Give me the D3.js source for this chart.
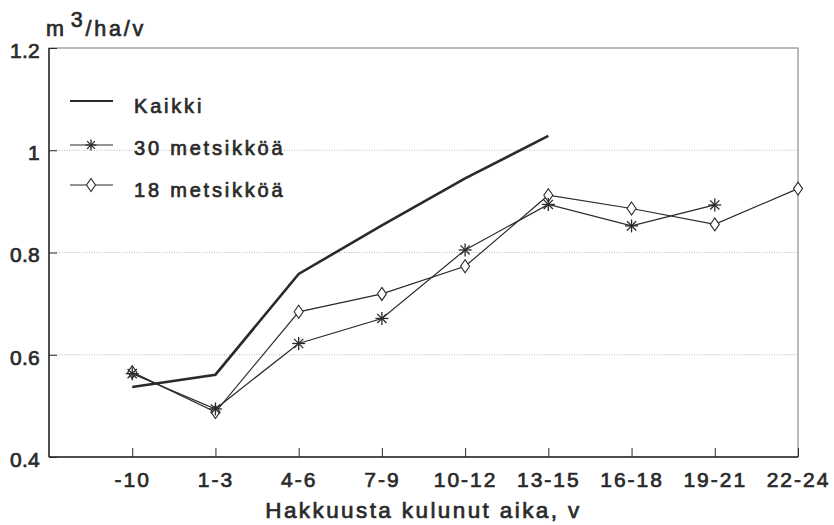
<!DOCTYPE html>
<html><head><meta charset="utf-8">
<script src="https://cdn.jsdelivr.net/npm/d3@7"></script>
<style>
body{margin:0;background:#fff;}
text{font-family:"Liberation Sans",Arial,sans-serif;font-weight:normal;fill:#2a2a2a;stroke:#2a2a2a;stroke-width:0.7px;}
</style></head>
<body>
<svg id="c" width="834" height="525"></svg>
<script>
const categories = ["-10","1-3","4-6","7-9","10-12","13-15","16-18","19-21","22-24"];
const kaikki = [0.537, 0.561, 0.758, 0.853, 0.945, 1.028, null, null, null];
const mets30 = [0.563, 0.494, 0.622, 0.671, 0.805, 0.894, 0.852, 0.893, null];
const mets18 = [0.566, 0.488, 0.684, 0.719, 0.773, 0.912, 0.886, 0.855, 0.925];
const yTicks = [0.4, 0.6, 0.8, 1.0, 1.2];
const yTickLabels = ["0.4","0.6","0.8","1","1.2"];
const yTitle = "m";
const xTitle = "Hakkuusta kulunut aika, v";
const legendLabels = ["Kaikki","30 metsikköä","18 metsikköä"];

const svg = d3.select("#c");
const L = 49, R = 798, T = 48, B = 457;
const x = d3.scaleLinear().domain([-1, categories.length - 1]).range([L, R]);
const y = d3.scaleLinear().domain([0.4, 1.2]).range([B, T]);
const ink = "#2a2a2a";

// grid
svg.append("g").selectAll("line").data(yTicks.filter(v => v > 0.4 && v < 1.2)).join("line")
  .attr("x1", L).attr("x2", R).attr("y1", d => y(d)).attr("y2", d => y(d))
  .attr("stroke", "#a8a8a8").attr("stroke-width", 0.8).attr("stroke-dasharray", "1,1.5");

// frame
svg.append("rect").attr("x", L).attr("y", T).attr("width", R - L).attr("height", B - T)
  .attr("fill", "none").attr("stroke", "#777").attr("stroke-width", 1);
svg.append("line").attr("x1", L).attr("x2", L).attr("y1", T).attr("y2", B).attr("stroke", ink).attr("stroke-width", 1.5);
svg.append("line").attr("x1", L).attr("x2", R).attr("y1", B).attr("y2", B).attr("stroke", ink).attr("stroke-width", 1.5);

function styleText(sel, fs, ls){
  sel.attr("font-size", fs).attr("fill", ink).attr("stroke", ink).attr("stroke-width", 0.7)
    .attr("font-family", "Liberation Sans, Arial, sans-serif").attr("font-weight", "normal").attr("letter-spacing", ls);
}

// y axis
const yAxis = d3.axisLeft(y).tickValues(yTicks).tickSize(-8).tickPadding(9)
  .tickFormat((d, i) => yTickLabels[i]);
const ya = svg.append("g").attr("transform", `translate(${L},0)`).call(yAxis);
ya.select(".domain").remove();
ya.selectAll(".tick line").attr("stroke", ink).attr("stroke-width", 1);
styleText(ya.selectAll(".tick text"), 21, 0.3);
ya.selectAll(".tick text").attr("dy", "0.45em");

// x axis
const xAxis = d3.axisBottom(x).tickValues(d3.range(categories.length)).tickSize(-9).tickPadding(15)
  .tickFormat((d) => categories[d]);
const xa = svg.append("g").attr("transform", `translate(0,${B})`).call(xAxis);
xa.select(".domain").remove();
xa.selectAll(".tick line").attr("stroke", ink).attr("stroke-width", 1);
styleText(xa.selectAll(".tick text"), 21, 2);

// titles
const yt = svg.append("text").attr("x", 46).attr("y", 36).attr("font-size", 21.5).attr("letter-spacing", 2.8);
yt.append("tspan").text(yTitle);
yt.append("tspan").attr("dy", -9).attr("dx", 4).text("3");
yt.append("tspan").attr("dy", 9).text("/ha/v");
svg.append("text").attr("x", (L + R) / 2).attr("y", 518).attr("text-anchor", "middle")
  .attr("font-size", 22.5).attr("letter-spacing", 2.4).text(xTitle);

// lines
const lineGen = d3.line().defined(d => d.v != null).x(d => x(d.i)).y(d => y(d.v));
function pts(arr){ return arr.map((v, i) => ({i, v})); }

svg.append("path").datum(pts(mets18)).attr("d", lineGen).attr("fill", "none").attr("stroke", ink).attr("stroke-width", 1.2);
svg.append("path").datum(pts(mets30)).attr("d", lineGen).attr("fill", "none").attr("stroke", ink).attr("stroke-width", 1.2);
svg.append("path").datum(pts(kaikki)).attr("d", lineGen).attr("fill", "none").attr("stroke", ink).attr("stroke-width", 2.6);

// markers
function diamond(g, cx, cy){
  g.append("path").attr("d", `M${cx},${cy-6.5}L${cx+4.5},${cy}L${cx},${cy+6.5}L${cx-4.5},${cy}Z`)
    .attr("fill", "#fff").attr("stroke", ink).attr("stroke-width", 1.1);
}
function star(g, cx, cy, r){
  [0, 45, 90, 135].forEach(a => {
    const rad = a * Math.PI / 180;
    g.append("line").attr("x1", cx - r*Math.cos(rad)).attr("y1", cy - r*Math.sin(rad))
      .attr("x2", cx + r*Math.cos(rad)).attr("y2", cy + r*Math.sin(rad))
      .attr("stroke", ink).attr("stroke-width", 1.3);
  });
}
const mg = svg.append("g");
pts(mets18).filter(d => d.v != null).forEach(d => diamond(mg, x(d.i), y(d.v)));
pts(mets30).filter(d => d.v != null).forEach(d => star(mg, x(d.i), y(d.v), 6.5));

// legend
const lg = svg.append("g");
const ly = [101, 145, 185];
const lb = [112.5, 155, 197];
ly.forEach((yy, k) => {
  lg.append("line").attr("x1", 70).attr("x2", 113).attr("y1", yy).attr("y2", yy)
    .attr("stroke", ink).attr("stroke-width", k === 0 ? 2 : 1.2);
  if (k === 1) star(lg, 91, yy, 5.5);
  if (k === 2) diamond(lg, 91, yy);
  lg.append("text").attr("x", 134).attr("y", lb[k]).attr("font-size", 20).attr("letter-spacing", 2.8).text(legendLabels[k]);
});
</script>
</body></html>
